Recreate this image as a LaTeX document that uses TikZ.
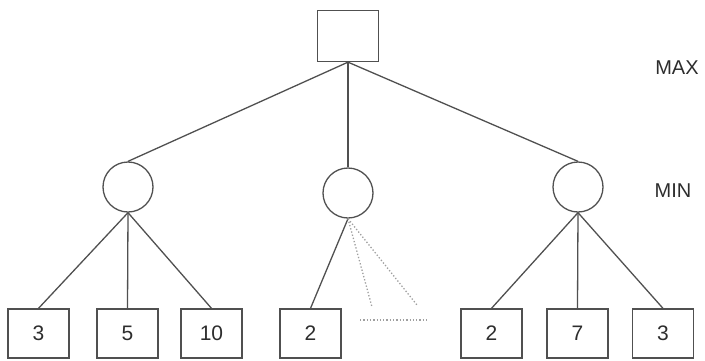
\documentclass[tikz,border=0pt]{standalone}
\usepackage{fontspec}
\setmainfont{Liberation Sans}
\definecolor{edgegray}{RGB}{80,80,80}
\definecolor{textgray}{RGB}{45,45,45}
\tikzset{
  maxbox/.style={draw=edgegray,minimum width=61pt,minimum height=51pt,inner sep=0pt},
  leafbox/.style={draw=edgegray,minimum width=61pt,minimum height=49pt,inner sep=0pt,text=textgray,font=\fontsize{21}{21}\selectfont},
  minnode/.style={draw=edgegray,circle,minimum size=50pt,inner sep=0pt},
  level/.style={text=textgray,font=\fontsize{20}{20}\selectfont},
  pruned/.style={gray!75,dotted,line width=1.3pt}
}
\begin{document}
\begin{tikzpicture}[x=1pt,y=-1pt,line width=1.3pt,draw=edgegray]
\useasboundingbox (0,0) rectangle (705,360);
\node[maxbox] (root) at (348,36) {};
\node[minnode] (l) at (128,187) {};
\node[minnode] (m) at (348,193) {};
\node[minnode] (r) at (578,187) {};
\node[level] (maxlbl) at (677,68) {MAX};
\node[level] (minlbl) at (673,191) {MIN};

\node[leafbox] (l1) at (38.5,333.5) {3};
\node[leafbox] (l2) at (127.5,333.5) {5};
\node[leafbox] (l3) at (211.5,333.5) {10};
\node[leafbox] (m1) at (310.5,333.5) {2};
\node[leafbox] (r1) at (491.5,333.5) {2};
\node[leafbox] (r2) at (577.5,333.5) {7};
\node[leafbox] (r3) at (663,333.5) {3};

\draw[edgegray] (root.south) -- (l.north); \draw[edgegray] (root.south) -- (m.north); \draw[edgegray] (root.south) -- (r.north);
\draw[edgegray] (l.south) -- (l1.north); \draw[edgegray] (l.south) -- (l2.north); \draw[edgegray] (l.south) -- (l3.north);
\draw[edgegray] (m.south) -- (m1.north);
\draw[edgegray] (r.south) -- (r1.north); \draw[edgegray] (r.south) -- (r2.north); \draw[edgegray] (r.south) -- (r3.north);

% cut off branches
\coordinate (cut1) at (372,307); \coordinate (cut2) at (417,305);
\coordinate (cutl) at (360,320); \coordinate (cutr) at (428,320);
\draw[pruned] (m.south) -- (cut1); \draw[pruned] (m.south) -- (cut2);
\draw[pruned] (cutl) -- (cutr);
\end{tikzpicture}
\end{document}
